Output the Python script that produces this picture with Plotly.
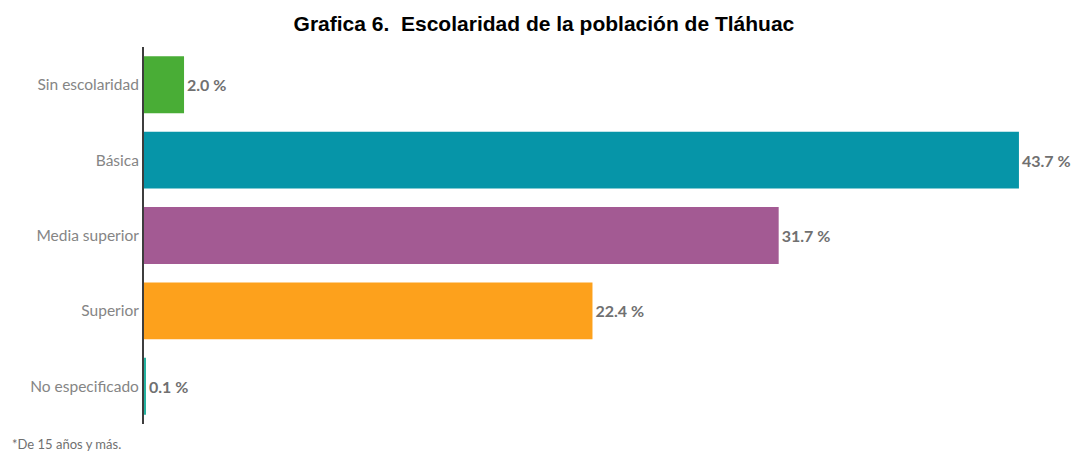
import plotly.graph_objects as go

categories = ["Sin escolaridad", "Básica", "Media superior", "Superior", "No especificado"]
values = [2.0, 43.7, 31.7, 22.4, 0.1]
labels = ["2.0 %", "43.7 %", "31.7 %", "22.4 %", "0.1 %"]
colors = ["#49ad36", "#0695a8", "#a35a93", "#fda11c", "#25b3a1"]

fig = go.Figure(go.Bar(
    x=values, y=categories, orientation="h",
    marker=dict(color=colors, line=dict(width=0)),
    text=labels, textposition="outside", cliponaxis=False,
    textfont=dict(family="Lato", size=16, color="#707070", weight="bold"),
    width=0.755, hoverinfo="skip",
))

fig.update_layout(
    width=1075, height=452,
    margin=dict(l=144, r=0, t=47, b=28),
    paper_bgcolor="white", plot_bgcolor="white",
    showlegend=False,
    title=dict(text="<b>Grafica 6.  Escolaridad de la población de Tláhuac</b>",
               x=0.506, xanchor="center", y=0.947, yanchor="middle",
               font=dict(family="Liberation Sans", size=21, color="black")),
    xaxis=dict(range=[0, 46.5], showgrid=False, zeroline=False, showticklabels=False,
               ticks="", showline=False, automargin=False),
    yaxis=dict(autorange="reversed", showgrid=False, zeroline=False, ticks="",
               showline=True, linecolor="#3d3d3d", linewidth=2, automargin=False,
               tickfont=dict(family="Lato", size=15.5, color="#858585"),
               ticklabelstandoff=0),
    annotations=[dict(text="*De 15 años y más.", xref="paper", yref="paper",
                      x=-134/931, y=-0.052, xanchor="left", yanchor="middle",
                      showarrow=False,
                      font=dict(family="Lato", size=13, color="#707070"))],
)

fig.write_html("out.html", config={"displayModeBar": False},
               post_script="document.body.style.margin='0';document.body.style.padding='0';")
